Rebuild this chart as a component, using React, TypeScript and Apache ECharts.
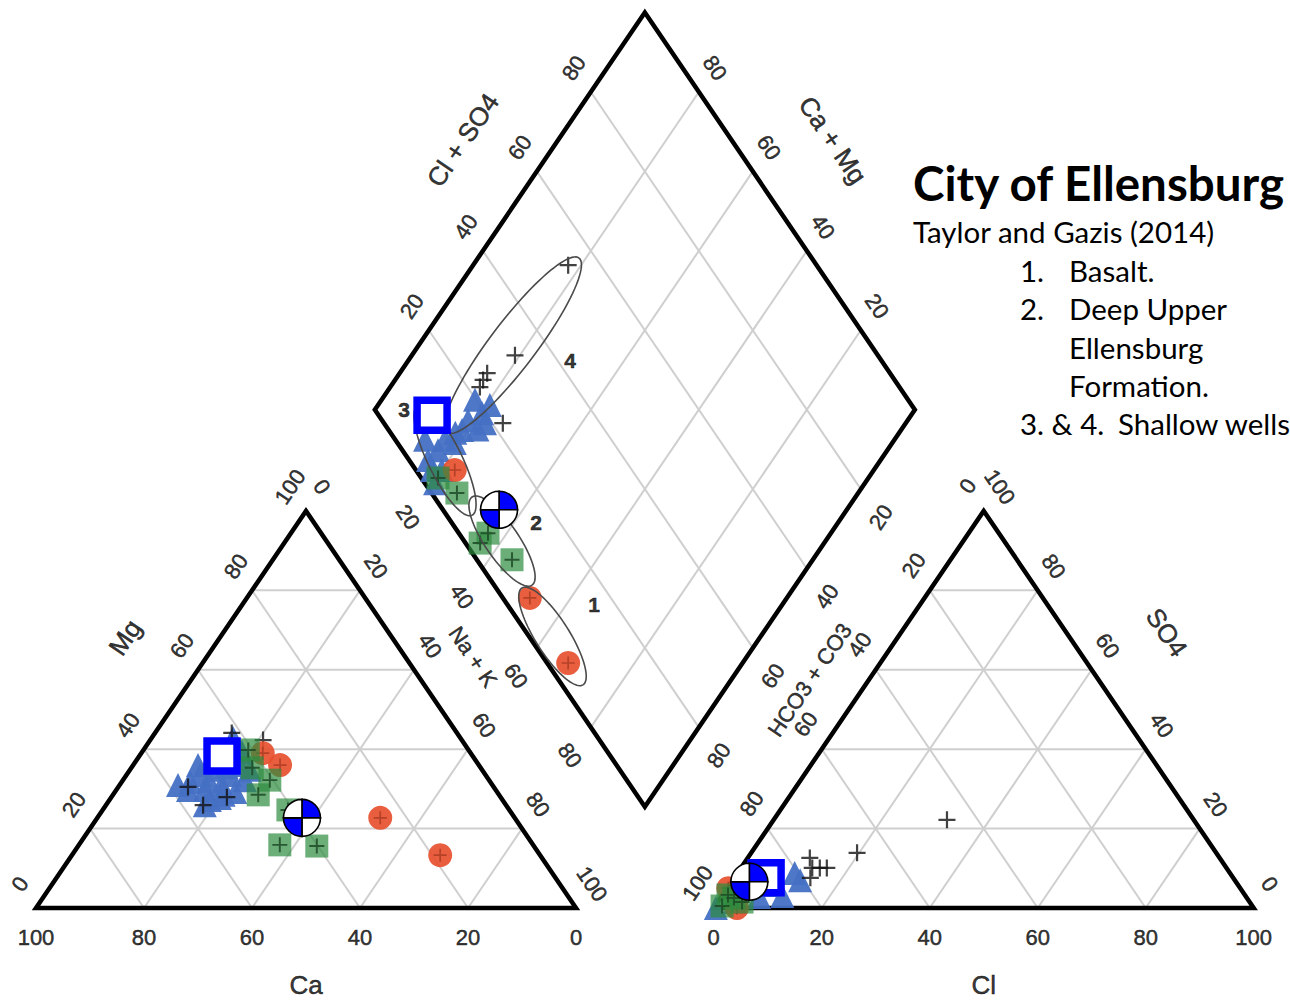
import React, { useEffect, useRef } from "react";
import * as echarts from "echarts";

// ---------- Sample chemistry (percent of total meq/L) ----------
// Cation triangle points: [Mg, Na + K]   (Ca = 100 - Mg - Na - K)
const basaltCation = [[36.0, 27.2], [39.0, 22.5], [22.7, 52.4], [13.3, 68.2]];
const deepUpperCation = [[28.5, 26.9], [15.9, 37.2], [15.6, 44.2], [24.7, 34.3], [35.3, 22.4], [39.8, 19.4], [32.2, 27.2]];
const shallowCation = [
  [31.7, 12.7], [33.5, 13.6], [29.7, 16.4], [34.8, 15.7], [27.2, 18.6], [31.0, 18.9], [33.5, 19.2],
  [29.2, 22.3], [36.0, 19.8], [37.3, 16.4], [32.2, 22.6], [36.0, 12.0], [37.8, 13.7], [39.8, 16.0],
  [42.8, 15.1], [34.8, 22.2], [25.9, 18.3], [27.7, 20.2], [29.7, 13.3], [39.3, 18.5], [32.0, 16.0],
  [28.5, 20.5], [35.5, 17.5], [31.0, 10.8],
];
const shallowCrossCation = [[44.1, 14.2], [42.3, 20.9], [30.5, 12.9], [25.9, 18.0], [27.9, 21.4]];
const wellACation = [[38.3, 15.3]];
const wellBCation = [[22.7, 37.9]];

// Diamond points: [Na + K, Cl + SO4]
const basaltDiamond = [[52.4, 5.0], [67.7, 3.9], [22.4, 7.2]];
const deepUpperDiamond = [[25.7, 4.7], [20.3, 3.1], [36.5, 5.4], [44.3, 6.5], [36.3, 2.7]];
const shallowDiamond = [
  [17.3, 19.8], [20.3, 19.4], [18.6, 15.9], [18.7, 13.6], [19.0, 10.6], [16.8, 6.6], [16.2, 3.5],
  [18.2, 3.0], [20.4, 1.9], [22.1, 18.7], [16.8, 9.2], [20.7, 21.9], [13.1, 5.5], [20.0, 4.8],
  [17.8, 12.0], [21.5, 16.5],
];
const shallowCrossDiamond = [[17.6, 54.0], [19.1, 32.8], [16.2, 25.4], [16.3, 23.8], [16.6, 22.3], [25.4, 22.0]];
const wellADiamond = [[11.3, 9.9]];
const wellBDiamond = [[35.6, 10.4]];

// Anion triangle points: [SO4, Cl]   (HCO3 + CO3 = 100 - SO4 - Cl)
const basaltAnion = [[5.0, 0.2], [0.0, 4.3]];
const deepUpperAnion = [[3.3, 1.0], [1.5, 4.5], [0.5, 1.3], [2.5, 2.5]];
const shallowAnion = [[0.0, 0.4], [2.8, 7.0], [3.0, 11.2], [8.8, 10.6], [7.0, 12.5], [5.8, 7.5], [1.5, 3.2]];
const shallowCrossAnion = [[12.6, 11.5], [10.1, 13.2], [10.1, 14.6], [10.1, 15.9], [7.6, 14.1], [13.9, 19.6], [22.2, 32.1]];
const wellAAnion = [[7.6, 5.9]];
const wellBAnion = [[6.6, 3.3]];

// Group envelopes in the diamond: ends of the long axis as [Na + K, Cl + SO4]
const envelopeIds = ["1", "2", "3", "4"];
const envelopeEndA = [[49.7, 4.8], [29.0, 7.0], [7.4, 8.6], [16.2, 10.5]];
const envelopeEndB = [[73.2, 3.9], [51.2, 7.0], [31.3, 4.7], [18.7, 56.9]];

// Tick labels
const TICKS = [0, 20, 40, 60, 80, 100];
const INNER_TICKS = [20, 40, 60, 80];

// Legend text
const TITLE = "City of Ellensburg";
const SOURCE = "Taylor and Gazis (2014)";
const LIST_NUMBERS = ["1.", "2.", "", "", "3. & 4."];
const LIST_TEXT = ["Basalt.", "Deep Upper", "Ellensburg", "Formation.", "Shallow wells"];

// ---------- Layout ----------
const W = 1290;
const HGT = 1000;
const GAP = 25.5; // gap between the two triangles, in triangle-side percent
const H = Math.sqrt(3) / 2;
const X0 = 36; // screen x of the cation triangle's Ca corner
const Y0 = 908; // screen y of the triangle bases
const SX = 5.4; // px per model unit, horizontal
const SY = 4.585; // px per model unit, vertical
const XMIN = -X0 / SX;
const XMAX = (W - X0) / SX;
const YMIN = -(HGT - Y0) / SY;
const YMAX = Y0 / SY;
const ANG = (Math.atan2(100 * H * SY, 50 * SX) * 180) / Math.PI;

const envelopeHalfWidth = [17, 17, 17, 23]; // px
const envelopeLabelPos = [[65.1, 16.1], [44.1, 15.6], [5.4, 5.4], [29.9, 42.4]];

type P = number[];
const cationXY = ([mg, nak]: P): P => [nak + mg / 2, mg * H];
const anionXY = ([so4, cl]: P): P => [100 + GAP + cl + so4 / 2, so4 * H];
const diamondXY = ([nak, clso4]: P): P => [
  100 + GAP / 2 + (clso4 + nak - 100) / 2,
  H * (GAP + 100 - nak + clso4),
];
const shift = ([u, v]: P, [dx, dy]: P): P => [u + dx / SX, v - dy / SY];

const allPanels = (c: P[], d: P[], a: P[]) => [
  ...c.map(cationXY),
  ...d.map(diamondXY),
  ...a.map(anionXY),
];

function ellipsePoints(endA: P, endB: P, halfWidthPx: number): P[] {
  const a = diamondXY(endA);
  const b = diamondXY(endB);
  const pa = [a[0] * SX, -a[1] * SY];
  const pb = [b[0] * SX, -b[1] * SY];
  const cx = (pa[0] + pb[0]) / 2;
  const cy = (pa[1] + pb[1]) / 2;
  const half = Math.hypot(pb[0] - pa[0], pb[1] - pa[1]) / 2;
  const ux = (pb[0] - pa[0]) / (2 * half);
  const uy = (pb[1] - pa[1]) / (2 * half);
  const pts: P[] = [];
  for (let i = 0; i <= 96; i++) {
    const t = (i / 96) * Math.PI * 2;
    const px = cx + half * Math.cos(t) * ux - halfWidthPx * Math.sin(t) * uy;
    const py = cy + half * Math.cos(t) * uy + halfWidthPx * Math.sin(t) * ux;
    pts.push([px / SX, -py / SY]);
  }
  return pts;
}

const PLUS = "path://M-1.3,-10H1.3V-1.3H10V1.3H1.3V10H-1.3V1.3H-10V-1.3H-1.3Z";

function buildOption() {
  // light grid inside the three plots
  const gridSegs: P[][] = [];
  INNER_TICKS.forEach((k) => {
    gridSegs.push([cationXY([k, 0]), cationXY([k, 100 - k])]);
    gridSegs.push([cationXY([0, k]), cationXY([100 - k, k])]);
    gridSegs.push([cationXY([0, 100 - k]), cationXY([100 - k, 0])]);
    gridSegs.push([anionXY([k, 0]), anionXY([k, 100 - k])]);
    gridSegs.push([anionXY([0, k]), anionXY([100 - k, k])]);
    gridSegs.push([anionXY([0, 100 - k]), anionXY([100 - k, 0])]);
    gridSegs.push([diamondXY([k, 0]), diamondXY([k, 100])]);
    gridSegs.push([diamondXY([0, k]), diamondXY([100, k])]);
  });

  const frames: P[][] = [
    [cationXY([0, 0]), cationXY([0, 100]), cationXY([100, 0]), cationXY([0, 0]), cationXY([0, 100])],
    [anionXY([0, 0]), anionXY([0, 100]), anionXY([100, 0]), anionXY([0, 0]), anionXY([0, 100])],
    [diamondXY([0, 0]), diamondXY([100, 0]), diamondXY([100, 100]), diamondXY([0, 100]), diamondXY([0, 0]), diamondXY([100, 0])],
  ];

  const envelopes = envelopeIds.map((_, i) => ellipsePoints(envelopeEndA[i], envelopeEndB[i], envelopeHalfWidth[i]));

  // axis numbers and titles
  const labels: any[] = [];
  const add = (pos: P, off: P, text: string, rot: number, size = 22, bold = false) =>
    labels.push({
      name: text,
      value: shift(pos, off),
      label: { rotate: rot, fontSize: size, fontWeight: bold ? "bold" : "normal" },
    });

  TICKS.forEach((t) => {
    const s = String(t);
    add(cationXY([0, 100 - t]), [0, 29], s, 0);
    add(cationXY([t, 0]), [-16, -24], s, ANG);
    add(cationXY([100 - t, t]), [16, -24], s, -ANG);
    add(anionXY([0, t]), [0, 29], s, 0);
    add(anionXY([100 - t, 0]), [-16, -25], s, ANG);
    add(anionXY([t, 100 - t]), [16, -24], s, -ANG);
  });
  INNER_TICKS.forEach((t) => {
    const s = String(t);
    add(diamondXY([t, 0]), [-21, 28], s, -ANG);
    add(diamondXY([0, t]), [-17, -24], s, ANG);
    add(diamondXY([100 - t, 100]), [16, -24], s, -ANG);
    add(diamondXY([100, 100 - t]), [20, 28], s, ANG);
  });

  add(cationXY([0, 50]), [0, 77], "Ca", 0, 26);
  add(cationXY([50, 0]), [-46, -72], "Mg", ANG, 26);
  add(cationXY([60, 40]), [59, -13], "Na + K", -ANG, 22);
  add(diamondXY([0, 50]), [-47, -71], "Cl + SO4", ANG, 26);
  add(diamondXY([50, 100]), [53, -71], "Ca + Mg", -ANG, 26);
  add(diamondXY([100, 40]), [57, 32], "HCO3 + CO3", ANG, 22);
  add(anionXY([50, 50]), [48, -77], "SO4", -ANG, 26);
  add(anionXY([0, 50]), [0, 77], "Cl", 0, 26);

  envelopeIds.forEach((id, i) => add(diamondXY(envelopeLabelPos[i]), [0, 0], id, 0, 21, true));

  const lineCommon = { type: "lines", coordinateSystem: "cartesian2d", polyline: true, silent: true };

  const legendX = 913;
  const numX = 1020;
  const textX = 1069;
  const rowY = [270, 308, 347, 385, 423];
  const bodyFont = { fontFamily: "Lato", fontSize: 29.5, fill: "#000", align: "left", verticalAlign: "middle" };
  const graphic: any[] = [
    {
      type: "text", x: legendX, y: 182,
      style: { text: TITLE, fontFamily: "Lato", fontWeight: "bold", fontSize: 47.5, fill: "#000", align: "left", verticalAlign: "middle" },
    },
    { type: "text", x: legendX, y: 231, style: { text: SOURCE, ...bodyFont } },
  ];
  LIST_TEXT.forEach((txt, i) => {
    if (LIST_NUMBERS[i]) {
      graphic.push({ type: "text", x: numX, y: rowY[i], style: { text: LIST_NUMBERS[i], ...bodyFont } });
    }
    graphic.push({ type: "text", x: i === 4 ? 1118 : textX, y: rowY[i], style: { text: txt, ...bodyFont } });
  });

  return {
    animation: false,
    backgroundColor: "#ffffff",
    grid: { left: 0, right: 0, top: 0, bottom: 0, containLabel: false },
    xAxis: { type: "value", min: XMIN, max: XMAX, show: false },
    yAxis: { type: "value", min: YMIN, max: YMAX, show: false },
    tooltip: { show: false },
    graphic,
    series: [
      {
        ...lineCommon, name: "grid", z: 1,
        data: gridSegs.map((coords) => ({ coords })),
        lineStyle: { color: "#cfcfcf", width: 2, opacity: 1 },
      },
      {
        ...lineCommon, name: "frame", z: 2,
        data: frames.map((coords) => ({ coords })),
        lineStyle: { color: "#000", width: 4.5, opacity: 1, join: "miter", cap: "butt" },
      },
      {
        type: "scatter", name: "Shallow wells (3)", z: 5, silent: true,
        data: allPanels(shallowCation, shallowDiamond, shallowAnion),
        symbol: "triangle", symbolSize: 24,
        itemStyle: { color: "#4470c4", opacity: 0.95 },
      },
      {
        type: "scatter", name: "Shallow wells (4)", z: 6, silent: true,
        data: allPanels(shallowCrossCation, shallowCrossDiamond, shallowCrossAnion),
        symbol: PLUS, symbolSize: 17,
        itemStyle: { color: "#111" },
      },
      {
        type: "scatter", name: "Basalt", z: 6, silent: true,
        data: allPanels(basaltCation, basaltDiamond, basaltAnion),
        symbol: "circle", symbolSize: 24,
        itemStyle: { color: "#e6502e", opacity: 0.92 },
      },
      {
        type: "scatter", name: "Basalt marks", z: 6, silent: true,
        data: allPanels(basaltCation, basaltDiamond, basaltAnion),
        symbol: PLUS, symbolSize: 13,
        itemStyle: { color: "#8a2a14", opacity: 0.55 },
      },
      {
        type: "scatter", name: "Deep Upper Ellensburg", z: 7, silent: true,
        data: allPanels(deepUpperCation, deepUpperDiamond, deepUpperAnion),
        symbol: "rect", symbolSize: 23,
        itemStyle: { color: "#2e8b3e", opacity: 0.7 },
      },
      {
        type: "scatter", name: "Deep Upper marks", z: 8, silent: true,
        data: allPanels(deepUpperCation, deepUpperDiamond, deepUpperAnion),
        symbol: PLUS, symbolSize: 15,
        itemStyle: { color: "#1d4a26", opacity: 0.85 },
      },
      {
        ...lineCommon, name: "envelopes", z: 9,
        data: envelopes.map((coords) => ({ coords })),
        lineStyle: { color: "#4a4a4a", width: 1.6, opacity: 1 },
      },
      {
        type: "scatter", name: "Well A", z: 10, silent: true,
        data: allPanels(wellACation, wellADiamond, wellAAnion),
        symbol: "rect", symbolSize: 30,
        itemStyle: { color: "#ffffff", borderColor: "#0000ff", borderWidth: 7.5, opacity: 1 },
      },
      {
        type: "custom", name: "Well B", z: 11, silent: true,
        coordinateSystem: "cartesian2d",
        encode: { x: 0, y: 1 },
        data: allPanels(wellBCation, wellBDiamond, wellBAnion),
        renderItem: (_params: any, api: any) => {
          const c = api.coord([api.value(0), api.value(1)]);
          const r = 18.5;
          const quad = (s: number, e: number, fill: string) => ({
            type: "sector",
            shape: { cx: c[0], cy: c[1], r0: 0, r, startAngle: s, endAngle: e },
            style: { fill, stroke: "#000", lineWidth: 1.6 },
          });
          return {
            type: "group",
            children: [
              quad(-Math.PI / 2, 0, "#0000ff"),
              quad(0, Math.PI / 2, "#ffffff"),
              quad(Math.PI / 2, Math.PI, "#0000ff"),
              quad(Math.PI, Math.PI * 1.5, "#ffffff"),
            ],
          };
        },
      },
      {
        type: "scatter", name: "labels", z: 12, silent: true,
        data: labels,
        symbol: "circle", symbolSize: 1,
        itemStyle: { color: "rgba(0,0,0,0)" },
        label: {
          show: true, position: "inside", formatter: "{b}", color: "#000",
          fontFamily: "Liberation Sans", fontSize: 22, align: "center", verticalAlign: "middle",
          textBorderColor: "#000", textBorderWidth: 0.5,
        },
        emphasis: { disabled: true },
      },
    ],
  };
}

export default function App() {
  const ref = useRef<HTMLDivElement>(null);
  useEffect(() => {
    const chart = echarts.init(ref.current!, null, { renderer: "svg" });
    chart.setOption(buildOption() as any);
    return () => chart.dispose();
  }, []);
  return (
    <div
      ref={ref}
      style={{ position: "absolute", left: 0, top: 0, width: W, height: HGT, background: "#fff" }}
    />
  );
}
